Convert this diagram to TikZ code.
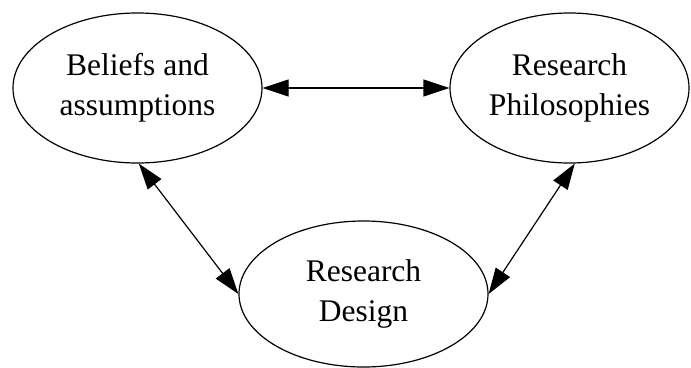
\documentclass[tikz,border=0pt]{standalone}
\usepackage{fontspec}
\setmainfont{Liberation Serif}
\usetikzlibrary{shapes.geometric,arrows.meta}
\begin{document}
\begin{tikzpicture}[x=1pt,y=-1pt,
  concept/.style={draw, ellipse, line width=1.2pt, inner sep=0pt, align=center,
    font=\fontsize{31.5}{40}\selectfont},
  link/.style={line width=1.2pt, {Triangle[length=26pt,width=17pt]}-{Triangle[length=26pt,width=17pt]}}]
  \useasboundingbox (0,0) rectangle (691,367);
  % the three concepts
  \node[concept, minimum width=249pt, minimum height=150pt] (beliefs) at (137.5,88) {Beliefs and\\assumptions};
  \node[concept, minimum width=239pt, minimum height=150pt] (philo) at (569.5,88) {Research\\Philosophies};
  \node[concept, minimum width=249pt, minimum height=146pt] (design) at (363.5,294) {Research\\Design};
  % two-way relations
  \draw[link] (beliefs.east) -- (philo.west);
  \draw[link] (beliefs.-89) -- (design.180);
  \draw[link] (philo.-86) -- (design.0);
\end{tikzpicture}
\end{document}
